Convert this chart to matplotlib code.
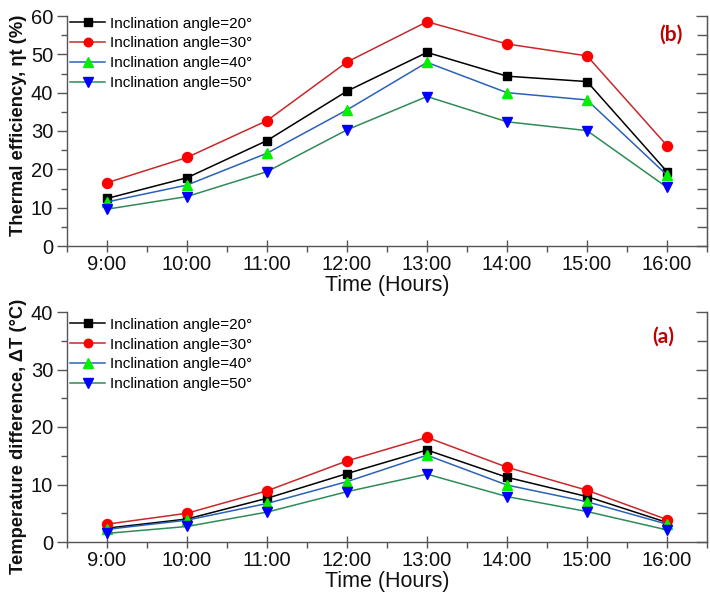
import matplotlib
matplotlib.use("Agg")
import matplotlib.pyplot as plt
from matplotlib.ticker import MultipleLocator

plt.rcParams['font.family'] = ['Liberation Sans', 'DejaVu Sans']

hours = [9, 10, 11, 12, 13, 14, 15, 16]
hour_labels = ["9:00", "10:00", "11:00", "12:00", "13:00", "14:00", "15:00", "16:00"]
series_labels = ["Inclination angle=20°", "Inclination angle=30°",
                 "Inclination angle=40°", "Inclination angle=50°"]

# Thermal efficiency (%) - panel (b)
eff_20 = [12.4, 17.8, 27.5, 40.4, 50.5, 44.3, 42.9, 19.4]
eff_30 = [16.5, 23.1, 32.7, 48.0, 58.5, 52.7, 49.6, 26.2]
eff_40 = [11.5, 15.9, 24.2, 35.5, 47.9, 40.0, 38.1, 18.5]
eff_50 = [9.6, 12.9, 19.4, 30.3, 39.0, 32.4, 30.1, 15.3]

# Temperature difference (°C) - panel (a)
dt_20 = [2.4, 4.0, 7.6, 11.9, 16.0, 11.25, 7.9, 3.4]
dt_30 = [3.1, 5.0, 8.9, 14.1, 18.2, 13.0, 9.0, 3.9]
dt_40 = [2.2, 3.8, 6.7, 10.5, 15.1, 9.9, 7.0, 3.1]
dt_50 = [1.5, 2.7, 5.2, 8.75, 11.8, 7.9, 5.3, 2.1]

styles = [
    dict(color="#000000", marker="s", mfc="#000000", mec="#000000", ms=6.3),
    dict(color="#c8282a", marker="o", mfc="#ff0000", mec="#ff0000", ms=7.2),
    dict(color="#2a62b8", marker="^", mfc="#00f000", mec="#00f000", ms=7.8),
    dict(color="#2e8b57", marker="v", mfc="#0000ff", mec="#0000ff", ms=7.8),
]

fig = plt.figure(figsize=(7.1, 6.08), dpi=100)
W, H = 710, 608

def make_ax(top_px, bottom_px):
    return fig.add_axes([67 / W, (H - bottom_px) / H, 640 / W, (bottom_px - top_px) / H])

ax_b = make_ax(16, 246)
ax_a = make_ax(312, 542)

spine_col = "#555555"

def style_ax(ax, series, ymax, ylabel, tag, tagpos, leg_y, ylab_y):
    for vals, lab, st in zip(series, series_labels, styles):
        ax.plot(hours, vals, lw=1.1, label=lab, clip_on=False, **st)
    ax.set_xlim(8.5, 16.5)
    ax.set_ylim(0, ymax)
    ax.set_xticks(hours)
    ax.set_xticklabels(hour_labels)
    ax.xaxis.set_minor_locator(MultipleLocator(0.5))
    ax.yaxis.set_major_locator(MultipleLocator(10))
    ax.yaxis.set_minor_locator(MultipleLocator(5))
    ax.spines['top'].set_visible(False)
    for s in ['left', 'right', 'bottom']:
        ax.spines[s].set_color(spine_col)
        ax.spines[s].set_linewidth(1.0)
    ax.tick_params(axis='x', which='major', direction='inout', length=9, width=1,
                   color=spine_col, labelsize=14.5, pad=2, labelcolor="#111111")
    ax.tick_params(axis='x', which='minor', direction='out', length=4, width=1, color=spine_col)
    ax.tick_params(axis='y', which='major', direction='out', length=7, width=1,
                   color=spine_col, labelsize=14.5, pad=3, labelcolor="#111111")
    ax.tick_params(axis='y', which='minor', direction='out', length=4, width=1, color=spine_col)
    sec = ax.secondary_yaxis('right')
    sec.yaxis.set_major_locator(MultipleLocator(10))
    sec.yaxis.set_minor_locator(MultipleLocator(5))
    sec.tick_params(which='major', direction='in', length=8, width=1, color=spine_col, labelright=False)
    sec.tick_params(which='minor', direction='in', length=7, width=1, color=spine_col)
    sec.spines['right'].set_color(spine_col)
    ax.set_xlabel("Time (Hours)", fontsize=15.5, labelpad=1, color="#111111")
    ax.set_ylabel(ylabel, fontsize=13.2, fontweight='bold', color="#111111")
    ax.yaxis.set_label_coords(-0.063, ylab_y)
    ax.text(tagpos[0], tagpos[1], tag, transform=ax.transAxes, ha='center', va='center',
            fontsize=15, fontweight='bold', color="#c00000", family=['Lato', 'DejaVu Sans'])
    ax.legend(loc='upper left', bbox_to_anchor=(0.005, leg_y), frameon=False,
              fontsize=11, handlelength=2.3, handletextpad=0.3, labelspacing=0.38,
              borderpad=0, borderaxespad=0, markerscale=0.85)

style_ax(ax_b, [eff_20, eff_30, eff_40, eff_50], 60, "Thermal efficiency, ηt (%)",
         "(b)", (0.944, 0.919), 0.997, 0.525)
style_ax(ax_a, [dt_20, dt_30, dt_40, dt_50], 40, "Temperature difference, ΔT (°C)",
         "(a)", (0.931, 0.893), 0.975, 0.46)

fig.savefig("out.png", dpi=100)
